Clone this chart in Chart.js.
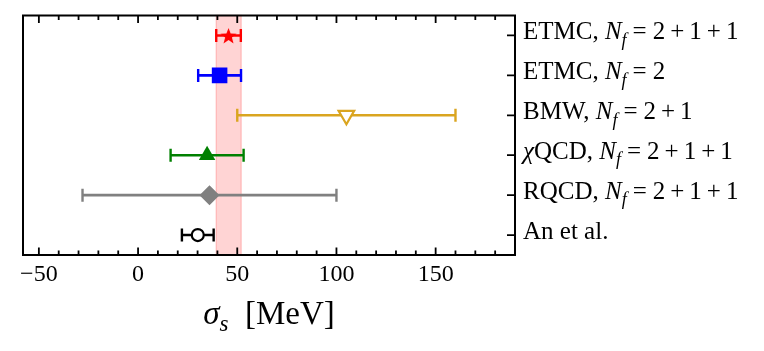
<!DOCTYPE html>
<html>
<head>
<meta charset="utf-8">
<script src="https://cdn.jsdelivr.net/npm/chart.js@4.4.1/dist/chart.umd.min.js"></script>
<style>
  html, body { margin: 0; padding: 0; background: #fff; }
  #wrap { width: 764px; height: 351px; }
</style>
</head>
<body>
<div id="wrap"><canvas id="myChart"></canvas></div>
<script>
// data
const groups = ['ETMC', 'ETMC', 'BMW', 'χQCD', 'RQCD', 'An et al.'];
const flavours = ['2+1+1', '2', '2+1', '2+1+1', '2+1+1', ''];
const sigmaValues = [45.6, 41.1, 105, 34.8, 36, 30.1];
const sigmaErrors = [6.2, 10.8, 55, 18.4, 64, 8];
const bandRange = [39.4, 52.0];
const xTicks = [-50, 0, 50, 100, 150];

const colors = ['#ff0000', '#0000ff', '#daa520', '#008000', '#808080', '#000000'];
const SERIF = '"Liberation Serif", "Times New Roman", serif';

// filled five-pointed star for the first marker
function makeStar(size, color) {
    const c = document.createElement('canvas');
    c.width = size; c.height = size;
    const g = c.getContext('2d');
    const R = size / 2, r = R * 0.42;
    g.beginPath();
    for (let i = 0; i < 10; i++) {
        const a = -Math.PI / 2 + i * Math.PI / 5;
        const rr = i % 2 === 0 ? R : r;
        g.lineTo(R + rr * Math.cos(a), R + 1 + rr * Math.sin(a));
    }
    g.closePath();
    g.fillStyle = color;
    g.fill();
    return c;
}

const markerStyles = [
    {pointStyle: makeStar(17, colors[0]), radius: 8, bg: colors[0], rot: 0},
    {pointStyle: 'rect', radius: 11, bg: colors[1], rot: 0},
    {pointStyle: 'triangle', radius: 9, bg: '#ffffff', rot: 180},
    {pointStyle: 'triangle', radius: 9.5, bg: colors[3], rot: 0},
    {pointStyle: 'rectRot', radius: 10, bg: colors[4], rot: 0},
    {pointStyle: 'circle', radius: 6, bg: '#ffffff', rot: 0}
];

const datasets = [];
sigmaValues.forEach((v, i) => {
    // error bar: line between the two ends, caps drawn as rotated line points
    datasets.push({
        data: [{x: v - sigmaErrors[i], y: i}, {x: v + sigmaErrors[i], y: i}],
        showLine: true,
        borderColor: colors[i],
        borderWidth: 2.6,
        pointStyle: 'line',
        pointRotation: 90,
        pointRadius: 6.5,
        pointBorderWidth: 2.4,
        pointBorderColor: colors[i],
        order: 1
    });
    const m = markerStyles[i];
    datasets.push({
        data: [{x: v, y: i}],
        pointStyle: m.pointStyle,
        pointRotation: m.rot,
        pointRadius: m.radius,
        pointBackgroundColor: m.bg,
        pointBorderColor: colors[i],
        pointBorderWidth: (i === 2 || i === 5) ? 2.2 : 0,
        order: 0
    });
});

function drawPieces(ctx, x, y, pieces) {
    pieces.forEach(p => {
        ctx.font = p.font;
        x += p.gap || 0;
        ctx.fillText(p.t, x, y + (p.dy || 0));
        x += ctx.measureText(p.t).width + (p.gap || 0);
    });
    return x;
}

function labelPieces(group, flavour, size) {
    const up = size + 'px ' + SERIF;
    const it = 'italic ' + up;
    const sub = 'italic ' + Math.round(size * 0.7) + 'px ' + SERIF;
    const pieces = [];
    if (group.startsWith('χ')) {
        pieces.push({t: 'χ', font: it});
        group = group.slice(1);
    }
    pieces.push({t: group + (flavour ? ', ' : ''), font: up});
    if (flavour) {
        pieces.push({t: 'N', font: it});
        pieces.push({t: 'f', font: sub, dy: size * 0.25});
        ('=' + flavour).split('').forEach(c => {
            const gap = c === '=' ? 0.24 : (c === '+' ? 0.2 : 0);
            pieces.push({t: c, font: up, gap: gap * size});
        });
    }
    return pieces;
}

const framePlugin = {
    id: 'frame',
    beforeDatasetsDraw(chart) {
        const {ctx, chartArea: a, scales: {x}} = chart;
        const x0 = x.getPixelForValue(bandRange[0]);
        const x1 = x.getPixelForValue(bandRange[1]);
        ctx.save();
        ctx.fillStyle = 'rgba(255, 0, 0, 0.17)';
        ctx.fillRect(x0, a.top, x1 - x0, a.bottom - a.top);
        ctx.strokeStyle = 'rgba(255, 0, 0, 0.17)';
        ctx.lineWidth = 1.5;
        ctx.strokeRect(x0, a.top, x1 - x0, a.bottom - a.top);
        ctx.restore();
    },
    afterDatasetsDraw(chart) {
        const {ctx, chartArea: a, scales: {x, y}} = chart;
        ctx.save();
        ctx.strokeStyle = '#000';
        ctx.lineWidth = 1.8;
        // inward ticks on top and bottom, minor every 10
        ctx.beginPath();
        for (let v = -50; v <= 190; v += 10) {
            const px = x.getPixelForValue(v);
            if (px < a.left || px > a.right) continue;
            const len = v % 50 === 0 ? 7.5 : 4.5;
            ctx.moveTo(px, a.bottom); ctx.lineTo(px, a.bottom - len);
            ctx.moveTo(px, a.top); ctx.lineTo(px, a.top + len);
        }
        // inward ticks on the right at each entry
        groups.forEach((g, i) => {
            const py = y.getPixelForValue(i);
            ctx.moveTo(a.right, py); ctx.lineTo(a.right - 8, py);
        });
        ctx.stroke();
        ctx.lineWidth = 2;
        ctx.strokeRect(a.left, a.top, a.right - a.left, a.bottom - a.top);

        // entry labels on the right
        ctx.fillStyle = '#000';
        ctx.textBaseline = 'alphabetic';
        ctx.textAlign = 'left';
        groups.forEach((g, i) => {
            const py = y.getPixelForValue(i);
            drawPieces(ctx, a.right + 8, py + 4, labelPieces(g, flavours[i], 25));
        });

        // axis title: sigma_s [MeV]
        const tSize = 33;
        const title = [
            {t: 'σ', font: 'italic ' + tSize + 'px ' + SERIF},
            {t: 's', font: 'italic ' + Math.round(tSize * 0.7) + 'px ' + SERIF, dy: tSize * 0.2},
            {t: '  [MeV]', font: tSize + 'px ' + SERIF}
        ];
        let w = 0;
        title.forEach(p => { ctx.font = p.font; w += ctx.measureText(p.t).width; });
        drawPieces(ctx, (a.left + a.right) / 2 - w / 2, 324, title);
        ctx.restore();
    }
};

const myChart = new Chart(
    document.getElementById('myChart'),
    {
        type: 'scatter',
        data: {datasets: datasets},
        options: {
            responsive: true,
            maintainAspectRatio: false,
            animation: false,
            events: [],
            layout: {padding: {left: 23, right: 249, top: 15.5, bottom: 0}},
            plugins: {legend: {display: false}, tooltip: {enabled: false}},
            scales: {
                x: {
                    type: 'linear',
                    min: -58,
                    max: 190,
                    afterBuildTicks: scale => { scale.ticks = xTicks.map(v => ({value: v})); },
                    afterFit: scale => { scale.height = 96; },
                    grid: {display: false, drawTicks: false},
                    border: {display: false},
                    ticks: {
                        color: '#000',
                        padding: 5,
                        maxRotation: 0,
                        font: {family: SERIF, size: 24},
                        callback: v => v < 0 ? '\u2212' + Math.abs(v) : String(v)
                    }
                },
                y: {
                    type: 'linear',
                    min: -0.5,
                    max: 5.5,
                    reverse: true,
                    display: false
                }
            }
        },
        plugins: [framePlugin]
    }
);
</script>
</body>
</html>
